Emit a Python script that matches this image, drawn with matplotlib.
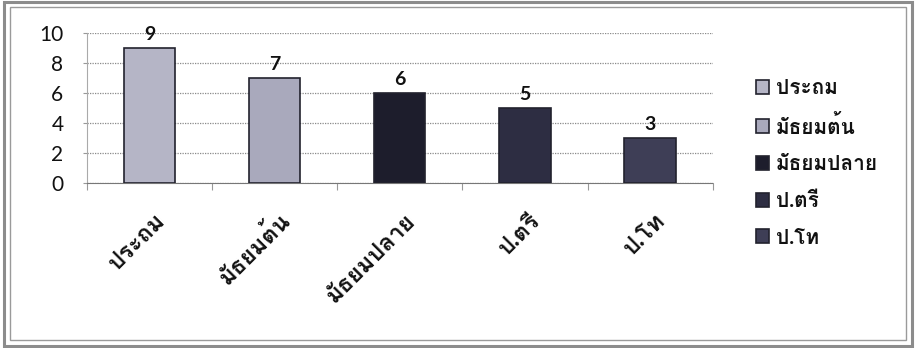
import matplotlib
matplotlib.use('Agg')
import matplotlib.pyplot as plt
from matplotlib.patches import Rectangle

plt.rcParams['font.family'] = ['Lato', 'Loma', 'DejaVu Sans']

levels = ['ประถม', 'มัธยมต้น', 'มัธยมปลาย', 'ป.ตรี', 'ป.โท']
counts = [9, 7, 6, 5, 3]
colors = ['#b5b5c6', '#a9a9bc', '#1d1d2c', '#2d2d42', '#3e3e56']

fig = plt.figure(figsize=(9.16, 3.48), dpi=100)
ax = fig.add_axes([0.095, 0.474, 0.683, 0.431])

x = list(range(len(levels)))
bars = ax.bar(x, counts, width=0.41, color=colors, edgecolor='#22222e', linewidth=1.2,
              label=levels, zorder=3)

for xi, v in zip(x, counts):
    ax.text(xi, v + 0.35, str(v), ha='center', va='bottom', fontsize=14,
            fontweight='bold', color='#111111')

ax.set_xlim(-0.5, len(levels) - 0.5)
ax.set_ylim(0, 10)
ax.set_yticks([0, 2, 4, 6, 8, 10])
ax.tick_params(axis='y', labelsize=15, length=3, color='#999999', pad=14,
               labelcolor='#111111')
ax.grid(axis='y', linestyle=(0, (1, 1)), color='#8a8a8a', linewidth=0.9, zorder=0)

# category boundaries as ticks, labels rotated
ax.set_xticks([i - 0.5 for i in range(len(levels) + 1)])
ax.set_xticklabels([])
ax.tick_params(axis='x', length=5, color='#999999')
for xi, lab in zip(x, levels):
    ax.annotate(lab, xy=(xi, 0), xycoords=('data', 'axes fraction'),
                xytext=(8, -24), textcoords='offset points',
                rotation=45, rotation_mode='anchor', ha='right', va='center',
                fontsize=17, fontweight='bold', color='#111111')

for side in ['top', 'right']:
    ax.spines[side].set_visible(False)
ax.spines['left'].set_linestyle((0, (1, 1)))
ax.spines['left'].set_color('#aaaaaa')
ax.spines['bottom'].set_linestyle((0, (1, 1)))
ax.spines['bottom'].set_color('#777777')

leg = ax.legend(handles=bars, labels=levels, loc='upper left',
                bbox_to_anchor=(0.816, 0.80), bbox_transform=fig.transFigure,
                frameon=False, fontsize=15, handlelength=0.65, handleheight=0.65,
                handletextpad=0.3, labelspacing=0.8, borderaxespad=0)
for t in leg.get_texts():
    t.set_fontweight('bold')
    t.set_color('#111111')

# double frame around the chart
fig.patches.append(Rectangle((0.004, 0.006), 0.992, 0.988, transform=fig.transFigure,
                             fill=False, edgecolor='#8c8c8c', linewidth=2.2))
fig.patches.append(Rectangle((0.011, 0.022), 0.978, 0.958, transform=fig.transFigure,
                             fill=False, edgecolor='#9a9a9a', linewidth=1.0))

fig.savefig('out.png', dpi=100)
